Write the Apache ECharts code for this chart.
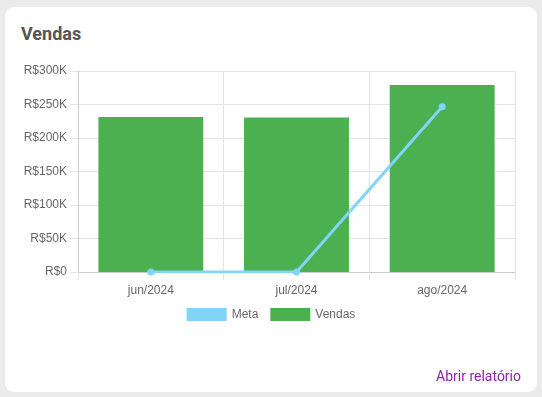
<!DOCTYPE html>
<html><head><meta charset="utf-8">
<script src="https://cdn.jsdelivr.net/npm/echarts@6/dist/echarts.min.js"></script>
<style>
html,body{margin:0;padding:0;width:542px;height:397px;background:#ebebeb;overflow:hidden}
#card{position:absolute;left:5px;top:7px;width:532px;height:385px;background:#fff;border-radius:9px}
#title{position:absolute;left:21px;top:23px;font:bold 18px Roboto,sans-serif;color:#555}
#link{position:absolute;right:21px;top:368px;font:14px Roboto,sans-serif;color:#8e24aa}
#chart{position:absolute;left:0;top:0;width:542px;height:397px}
</style></head>
<body>
<div id="card"></div>
<div id="title">Vendas</div>
<div id="chart"></div>
<div id="link">Abrir relatório</div>
<script>
const categories = ['jun/2024', 'jul/2024', 'ago/2024'];
const metaValues = [0, 0, 246500];
const vendasValues = [231500, 230500, 279000];
const yTicks = [0, 50000, 100000, 150000, 200000, 250000, 300000];

const chart = echarts.init(document.getElementById('chart'));
const fmt = v => v === 0 ? 'R$0' : 'R$' + (v / 1000) + 'K';
chart.setOption({
  animation: false,
  textStyle: { fontFamily: 'Liberation Sans, Arial, sans-serif' },
  grid: { left: 78, right: 27, top: 71, bottom: 125 },
  legend: {
    top: 303, left: 'center', itemWidth: 40, itemHeight: 13, itemGap: 12,
    textStyle: { color: '#666', fontSize: 12 },
    data: [{ name: 'Meta', icon: 'rect' }, { name: 'Vendas', icon: 'rect' }]
  },
  xAxis: {
    type: 'category', data: categories, boundaryGap: true,
    axisLine: { lineStyle: { color: '#ccc' } },
    axisTick: { show: true, length: 8, lineStyle: { color: '#e5e5e5' } },
    splitLine: { show: true, lineStyle: { color: '#e5e5e5' } },
    axisLabel: { color: '#666', fontSize: 12, margin: 13 }
  },
  yAxis: {
    type: 'value', min: yTicks[0], max: yTicks[yTicks.length - 1], interval: yTicks[1] - yTicks[0],
    axisLine: { show: true, lineStyle: { color: '#ccc' } },
    axisTick: { show: true, length: 8, lineStyle: { color: '#e5e5e5' } },
    splitLine: { lineStyle: { color: '#e5e5e5' } },
    axisLabel: { color: '#666', fontSize: 12, margin: 11, formatter: fmt }
  },
  series: [
    { name: 'Meta', type: 'line', data: metaValues, z: 5,
      itemStyle: { color: '#81d4fa' }, lineStyle: { color: '#81d4fa', width: 3 },
      symbol: 'circle', symbolSize: 7 },
    { name: 'Vendas', type: 'bar', data: vendasValues, barCategoryGap: '28%',
      itemStyle: { color: '#4caf50' } }
  ]
});
</script>
</body></html>
